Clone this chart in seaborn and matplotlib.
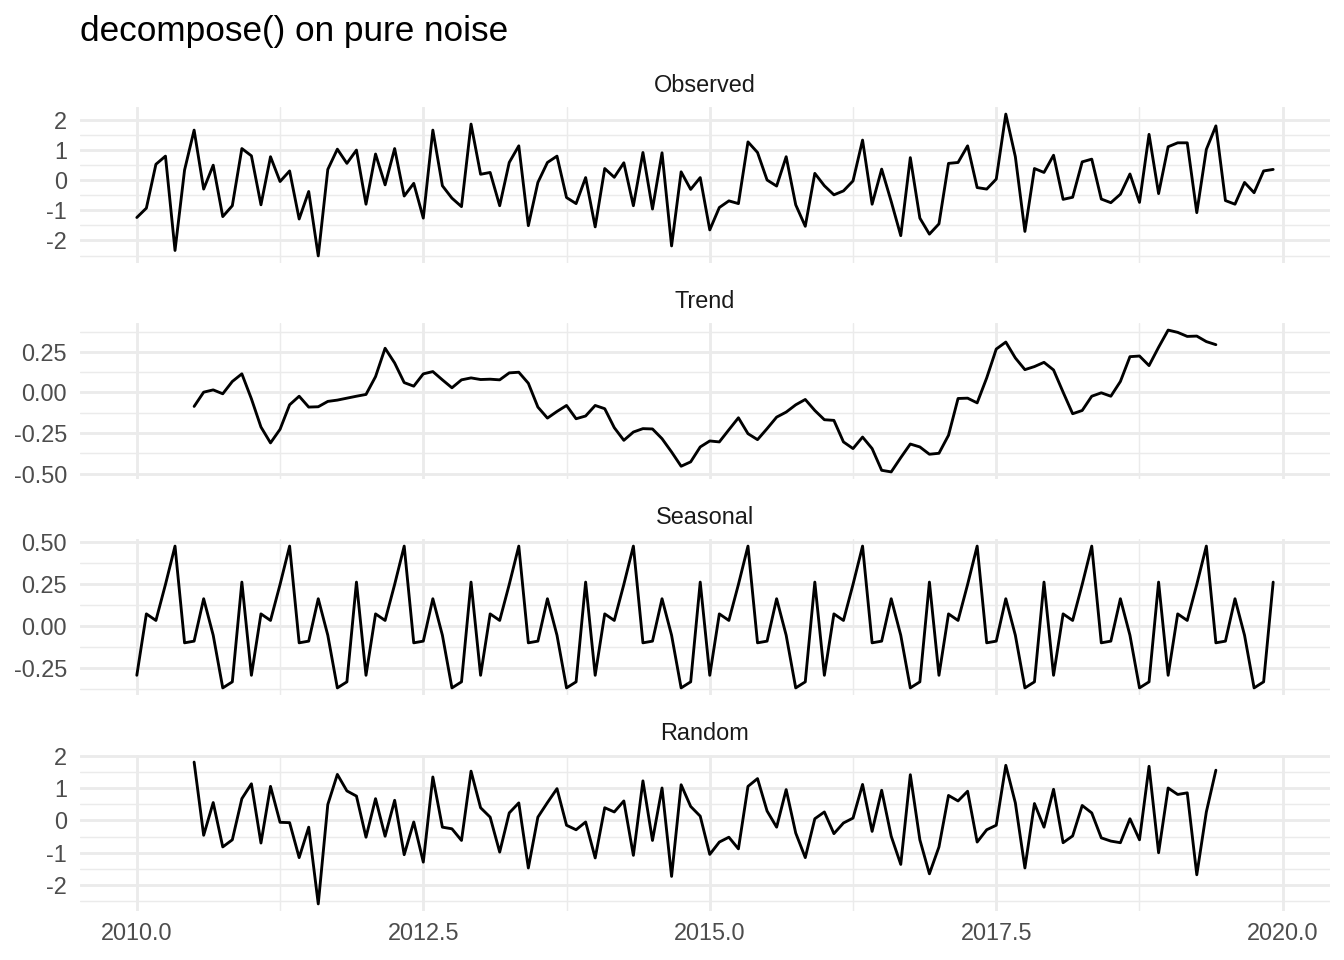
import numpy as np
import pandas as pd
import matplotlib
matplotlib.use("Agg")
import matplotlib.pyplot as plt
from matplotlib.ticker import FixedLocator, FuncFormatter
import seaborn as sns

# ---------------- data ----------------
start_year = 2010
n_months = 120

observed = [
    -1.24, -0.93, 0.52, 0.79, -2.33, 0.33, 1.65, -0.30, 0.49, -1.21, -0.85, 1.04,
    0.80, -0.82, 0.77, -0.05, 0.30, -1.29, -0.38, -2.51, 0.35, 1.02, 0.55, 0.99,
    -0.80, 0.86, -0.16, 1.04, -0.53, -0.11, -1.26, 1.65, -0.19, -0.60, -0.88, 1.85,
    0.19, 0.25, -0.85, 0.58, 1.13, -1.51, -0.08, 0.58, 0.79, -0.58, -0.78, 0.08,
    -1.55, 0.38, 0.09, 0.57, -0.85, 0.91, -0.96, 0.90, -2.18, 0.27, -0.31, 0.08,
    -1.65, -0.91, -0.69, -0.78, 1.26, 0.91, 0.00, -0.20, 0.77, -0.82, -1.53, 0.22,
    -0.19, -0.49, -0.36, -0.03, 1.32, -0.80, 0.36, -0.71, -1.84, 0.74, -1.26, -1.79,
    -1.45, 0.55, 0.58, 1.13, -0.25, -0.30, 0.03, 2.18, 0.77, -1.70, 0.38, 0.25,
    0.82, -0.64, -0.57, 0.60, 0.69, -0.63, -0.75, -0.47, 0.20, -0.74, 1.51, -0.45,
    1.10, 1.23, 1.23, -1.08, 1.01, 1.79, -0.68, -0.80, -0.08, -0.42, 0.30, 0.35,
]

# trend and random are defined for months 6..113
trend_first = 6
trend = [
    -0.086, 0.002, 0.016, -0.008, 0.068, 0.115, -0.039, -0.213, -0.311, -0.227,
    -0.076, -0.023, -0.090, -0.088, -0.055, -0.047, -0.035, -0.023, -0.012, 0.098,
    0.273, 0.182, 0.061, 0.039, 0.115, 0.129, 0.078, 0.029, 0.078, 0.090,
    0.080, 0.082, 0.078, 0.121, 0.125, 0.057, -0.090, -0.158, -0.117, -0.080,
    -0.162, -0.145, -0.080, -0.100, -0.217, -0.295, -0.244, -0.223, -0.225, -0.285,
    -0.367, -0.455, -0.428, -0.336, -0.299, -0.305, -0.230, -0.156, -0.254, -0.291,
    -0.223, -0.152, -0.121, -0.076, -0.043, -0.111, -0.168, -0.172, -0.305, -0.346,
    -0.275, -0.346, -0.480, -0.490, -0.402, -0.318, -0.336, -0.381, -0.375, -0.264,
    -0.037, -0.035, -0.064, 0.090, 0.268, 0.311, 0.213, 0.141, 0.160, 0.186,
    0.139, 0.002, -0.131, -0.111, -0.023, -0.002, -0.023, 0.068, 0.221, 0.225,
    0.166, 0.279, 0.385, 0.371, 0.346, 0.348, 0.314, 0.295,
]

seasonal_pattern = [-0.292, 0.073, 0.034, 0.248, 0.476, -0.099,
                    -0.089, 0.163, -0.054, -0.367, -0.331, 0.262]

random_part = [
    1.80, -0.46, 0.55, -0.82, -0.60, 0.67, 1.13, -0.70, 1.05, -0.06,
    -0.07, -1.15, -0.21, -2.58, 0.49, 1.42, 0.91, 0.75, -0.52, 0.67,
    -0.49, 0.62, -1.06, -0.05, -1.29, 1.34, -0.21, -0.26, -0.62, 1.52,
    0.39, 0.10, -0.98, 0.23, 0.54, -1.47, 0.10, 0.55, 0.98, -0.15,
    -0.29, -0.05, -1.16, 0.39, 0.26, 0.60, -1.08, 1.22, -0.62, 1.00,
    -1.73, 1.10, 0.43, 0.13, -1.05, -0.67, -0.52, -0.88, 1.05, 1.29,
    0.29, -0.21, 0.95, -0.39, -1.15, 0.05, 0.26, -0.41, -0.08, 0.07,
    1.11, -0.34, 0.93, -0.49, -1.36, 1.41, -0.60, -1.65, -0.82, 0.77,
    0.60, 0.90, -0.67, -0.29, -0.15, 1.70, 0.54, -1.47, 0.52, -0.21,
    0.96, -0.69, -0.48, 0.46, 0.23, -0.54, -0.64, -0.69, 0.05, -0.60,
    1.67, -1.00, 1.00, 0.80, 0.85, -1.68, 0.26, 1.55,
]

panel_names = ["Observed", "Trend", "Seasonal", "Random"]
x_breaks = [2010.0, 2012.5, 2015.0, 2017.5, 2020.0]
x_minor = [2011.25, 2013.75, 2016.25, 2018.75]
y_breaks = {
    "Observed": [-2, -1, 0, 1, 2],
    "Trend": [-0.50, -0.25, 0.00, 0.25],
    "Seasonal": [-0.25, 0.00, 0.25, 0.50],
    "Random": [-2, -1, 0, 1, 2],
}
y_minor = {
    "Observed": [-2.5, -1.5, -0.5, 0.5, 1.5],
    "Trend": [-0.375, -0.125, 0.125, 0.375],
    "Seasonal": [-0.375, -0.125, 0.125, 0.375],
    "Random": [-2.5, -1.5, -0.5, 0.5, 1.5],
}
y_fmt = {"Observed": "{:.0f}", "Trend": "{:.2f}", "Seasonal": "{:.2f}", "Random": "{:.0f}"}

# ---------------- build long table ----------------
time_all = start_year + np.arange(n_months) / 12.0
time_part = time_all[trend_first:trend_first + len(trend)]
seasonal = np.tile(seasonal_pattern, n_months // 12)

frames = [
    pd.DataFrame({"time": time_all, "value": observed, "panel": "Observed"}),
    pd.DataFrame({"time": time_part, "value": trend, "panel": "Trend"}),
    pd.DataFrame({"time": time_all, "value": seasonal, "panel": "Seasonal"}),
    pd.DataFrame({"time": time_part, "value": random_part, "panel": "Random"}),
]
df = pd.concat(frames, ignore_index=True)

# ---------------- style ----------------
sns.set_theme(style="white")
plt.rcParams["font.family"] = ["Liberation Sans", "DejaVu Sans"]
plt.rcParams["axes.unicode_minus"] = False

W, H, DPI = 1344, 960, 192
fig = plt.figure(figsize=(W / DPI, H / DPI), dpi=DPI)
fig.patch.set_facecolor("white")

left_px, right_px = 80, 1330
panel_top0, panel_step, panel_h = 107, 216, 156

grid_col = "#EBEBEB"
tmin, tmax = time_all.min(), time_all.max()
xpad = 0.05 * (tmax - tmin)

for k, name in enumerate(panel_names):
    top = panel_top0 + k * panel_step
    ax = fig.add_axes([left_px / W, 1 - (top + panel_h) / H,
                       (right_px - left_px) / W, panel_h / H])
    sub = df[df["panel"] == name]
    sns.lineplot(data=sub, x="time", y="value", ax=ax, color="black",
                 linewidth=1.07, estimator=None, sort=True)
    ax.set_xlim(tmin - xpad, tmax + xpad)
    vmin, vmax = sub["value"].min(), sub["value"].max()
    ypad = 0.05 * (vmax - vmin)
    ax.set_ylim(vmin - ypad, vmax + ypad)

    ax.xaxis.set_major_locator(FixedLocator(x_breaks))
    ax.xaxis.set_minor_locator(FixedLocator(x_minor))
    ax.yaxis.set_major_locator(FixedLocator(y_breaks[name]))
    ax.yaxis.set_minor_locator(FixedLocator(y_minor[name]))
    fmt = y_fmt[name]
    ax.yaxis.set_major_formatter(FuncFormatter(lambda v, p, f=fmt: f.format(v)))
    ax.xaxis.set_major_formatter(FuncFormatter(lambda v, p: f"{v:.1f}"))

    ax.grid(which="major", color=grid_col, linewidth=1.07)
    ax.grid(which="minor", color=grid_col, linewidth=0.53)
    ax.set_axisbelow(True)
    for s in ax.spines.values():
        s.set_visible(False)
    ax.set_facecolor("white")
    ax.tick_params(axis="both", which="both", length=0)
    ax.tick_params(axis="y", which="major", pad=4.9, labelsize=8.8, labelcolor="#4D4D4D")
    ax.tick_params(axis="x", which="major", pad=4.2, labelsize=8.8, labelcolor="#4D4D4D")
    if k < len(panel_names) - 1:
        ax.tick_params(axis="x", labelbottom=False)
    ax.set_xlabel("")
    ax.set_ylabel("")

    fig.text((left_px + right_px) / 2 / W, 1 - (top - 21) / H, name,
             ha="center", va="center", fontsize=8.8, color="#1A1A1A")

fig.text(80 / W, 1 - 32 / H, "decompose() on pure noise",
         ha="left", va="center", fontsize=13.2, color="black")

fig.savefig("out.png", dpi=DPI, facecolor="white")
